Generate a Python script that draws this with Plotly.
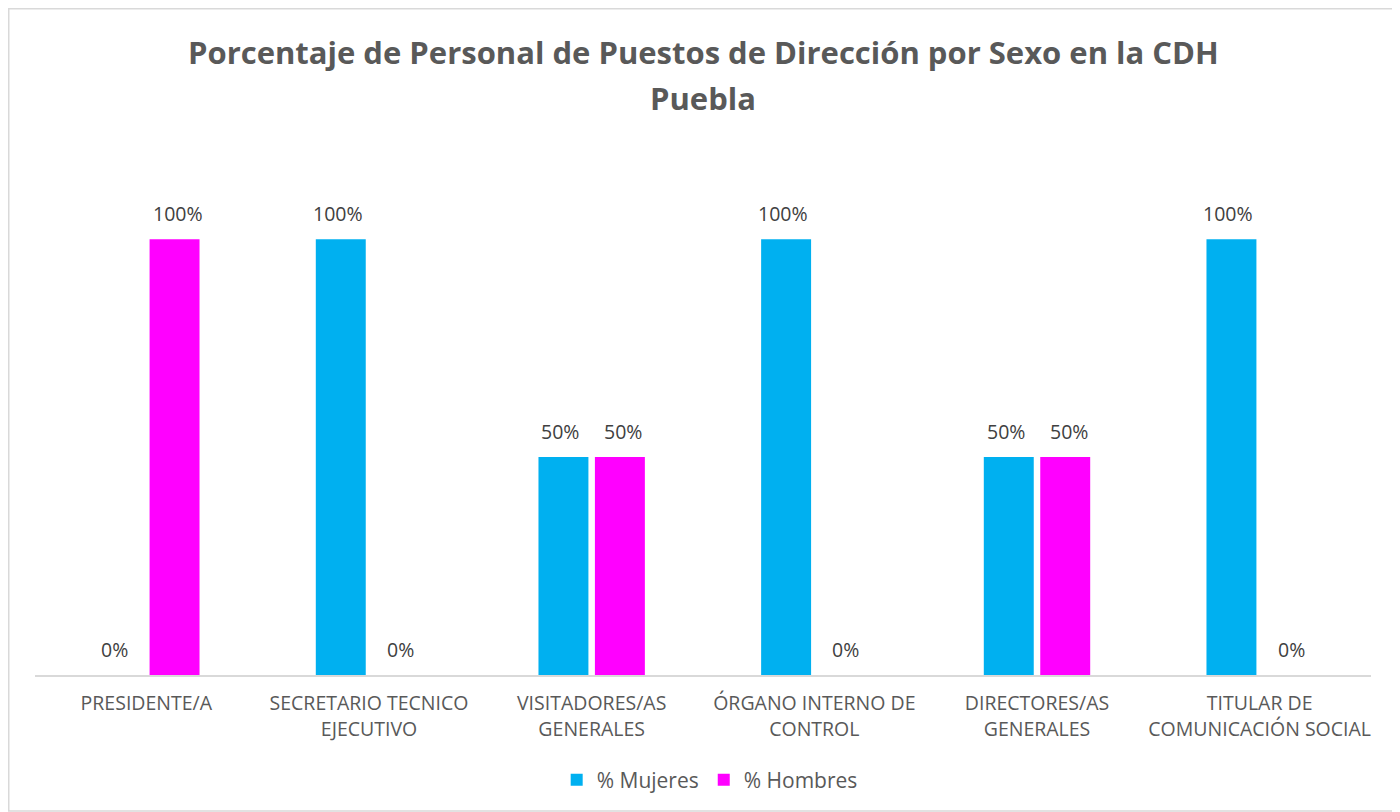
import plotly.graph_objects as go

categories = ["PRESIDENTE/A", "SECRETARIO TECNICO<br>EJECUTIVO", "VISITADORES/AS<br>GENERALES",
              "ÓRGANO INTERNO DE<br>CONTROL", "DIRECTORES/AS<br>GENERALES", "TITULAR DE<br>COMUNICACIÓN SOCIAL"]
mujeres = [0.0, 1.0, 0.5, 1.0, 0.5, 1.0]
hombres = [1.0, 0.0, 0.5, 0.0, 0.5, 0.0]
title_lines = ["Porcentaje de Personal de Puestos de Dirección por Sexo en la CDH", "Puebla"]

FONT = "Open Sans"
series = [("% Mujeres", mujeres, "#00B0F0", -31.5), ("% Hombres", hombres, "#FF00FF", 31.5)]

fig = go.Figure()
annotations = []
for name, vals, color, dx in series:
    fig.add_trace(go.Bar(x=categories, y=vals, name=name, marker_color=color, marker_line_width=0))
    for c, v in zip(categories, vals):
        annotations.append(dict(text=f"{v*100:.0f}%", xref="x", yref="y", x=c, y=v,
                                xshift=dx, yshift=26, xanchor="center", yanchor="middle",
                                showarrow=False, font=dict(family=FONT, size=19.5, color="#404040")))

# page is offset by 8px body margin
W, H = 1392, 804
L, R, T, B = 27, 29, 144, 137
pw, ph = W - L - R, H - T - B

x0 = (0.75 - L) / pw
x1 = (1391 - L) / pw
y1 = (667 - 0.75) / ph
y0 = (667 - 803) / ph

for line, ypix in zip(title_lines, [44, 90]):
    annotations.append(dict(text=f"<b>{line}</b>", xref="paper", yref="paper",
                            x=0.5, y=(667 - ypix) / ph, xanchor="center", yanchor="middle",
                            showarrow=False, font=dict(family=FONT, size=31, color="#595959")))

fig.update_layout(
    width=W, height=H,
    margin=dict(l=L, r=R, t=T, b=B),
    paper_bgcolor="white", plot_bgcolor="white",
    barmode="group", bargap=0.493, bargroupgap=0.115,
    annotations=annotations,
    xaxis=dict(showline=True, linecolor="#D9D9D9", linewidth=1.5, ticks="", ticklabelstandoff=10,
               tickfont=dict(family=FONT, size=19.5, color="#595959"), showgrid=False),
    yaxis=dict(range=[0, 1.2], visible=False, showgrid=False),
    legend=dict(orientation="h", x=0.505, xanchor="center", y=(667 - 772) / ph, yanchor="middle",
                font=dict(family=FONT, size=21, color="#595959"), traceorder="normal"),
    shapes=[dict(type="rect", xref="paper", yref="paper", x0=x0, x1=x1, y0=y0, y1=y1,
                 line=dict(color="#D9D9D9", width=1.5), layer="below")],
    showlegend=True,
)
fig.write_html("out.html")
